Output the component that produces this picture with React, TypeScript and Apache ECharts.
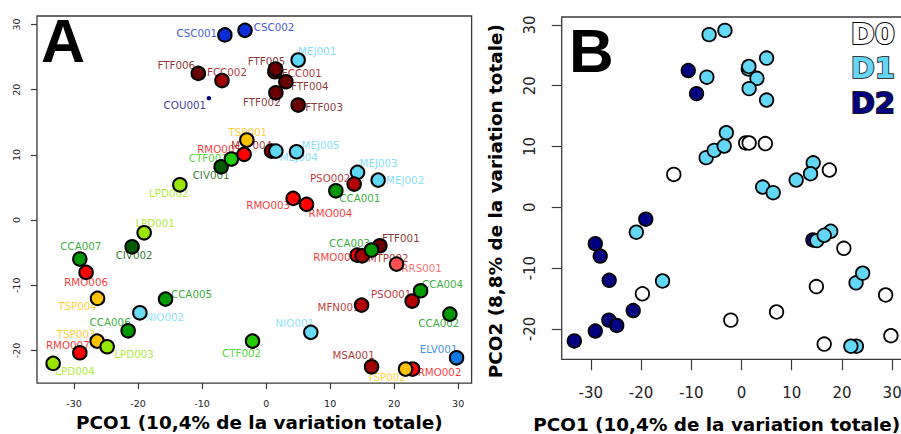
import React, { useEffect, useRef } from "react";
import * as echarts from "echarts";

// Sampling sites, in drawing order (later points sit on top)
const sites = [
  "CSC001", "CSC002", "FTF006", "FCC002", "COU001", "FCC001", "FTF005", "MEJ001",
  "FTF004", "FTF002", "FTF003", "CIV001", "CTF001", "RMO005", "TSP001", "LPD002",
  "MTP004", "MEJ004", "MEJ005", "MEJ003", "PSO002", "MEJ002", "CCA001", "RMO003",
  "RMO004", "LPD001", "CIV002", "CCA007", "RMO006", "TSP004", "CCA005", "NIO002",
  "CCA006", "TSP003", "LPD003", "RMO007", "LPD004", "CTF002", "NIO001", "RMO001",
  "MTP002", "FTF001", "CCA003", "RRS001", "PSO001", "CCA004", "MFN001", "CCA002",
  "ELV001", "MSA001", "RMO002", "TSP002",
];

// First principal coordinate (PCO1)
const pco1 = [
  -6.45, -3.3, -10.6, -6.9, -8.95, 1.36, 1.47, 5.0,
  3.08, 1.52, 5.0, -7.03, -5.43, -3.44, -3.02, -13.48,
  0.84, 1.52, 4.75, 14.28, 13.75, 17.5, 10.89, 4.22,
  6.31, -19.06, -20.94, -29.11, -28.13, -26.34, -15.72, -19.73,
  -21.56, -26.41, -24.84, -29.11, -33.28, -2.13, 6.98, 14.22,
  15.0, 17.77, 16.47, 20.38, 22.81, 24.13, 14.91, 28.7,
  29.75, 16.47, 22.88, 21.78,
];

// Second principal coordinate (PCO2)
const pco2 = [
  28.4, 29.1, 22.5, 21.4, 18.7, 22.75, 23.16, 24.54,
  21.21, 19.52, 17.64, 8.17, 9.36, 10.08, 12.27, 5.41,
  10.58, 10.58, 10.48, 7.32, 5.52, 6.13, 4.49, 3.33,
  2.41, -1.95, -4.1, -5.98, -8.02, -12.01, -12.12, -14.22,
  -16.98, -18.56, -19.43, -20.35, -21.98, -18.56, -17.22, -5.37,
  -5.48, -3.94, -4.6, -6.75, -12.42, -10.84, -13.04, -14.42,
  -21.12, -22.5, -22.85, -22.85,
];

// Sampling date of each site
const sampling = [
  "D1", "D1", "D2", "D1", "D2", "D1", "D1", "D1",
  "D1", "D1", "D1", "D1", "D1", "D1", "D1", "D0",
  "D0", "D0", "D0", "D1", "D1", "D0", "D1", "D1",
  "D1", "D2", "D1", "D2", "D2", "D2", "D1", "D0",
  "D2", "D2", "D2", "D2", "D2", "D0", "D0", "D2",
  "D1", "D1", "D1", "D0", "D1", "D1", "D0", "D0",
  "D0", "D0", "D1", "D1",
];

const pco1Ticks = [-30, -20, -10, 0, 10, 20, 30];
const pco2Ticks = [-20, -10, 0, 10, 20, 30];
const samplingLevels = ["D0", "D1", "D2"];

const siteColors: Record<string, string> = {
  CSC: "#0a2dd8",
  FTF: "#6b0000",
  FCC: "#a00000",
  COU: "#000080",
  MEJ: "#5fd7f7",
  NIO: "#6bdcf8",
  TSP: "#ffc200",
  RMO: "#ff0000",
  CTF: "#22cc00",
  CIV: "#005a00",
  LPD: "#99e600",
  CCA: "#009a00",
  PSO: "#b40000",
  MTP: "#a00000",
  MFN: "#b40000",
  MSA: "#a00000",
  RRS: "#ff5050",
  ELV: "#0a78e6",
};

const samplingColors: Record<string, string> = {
  D0: "#ffffff",
  D1: "#63d8f6",
  D2: "#000080",
};

const samplingStroke: Record<string, string> = {
  D0: "#000000",
  D1: "#3a3a3a",
  D2: "#1a1a1a",
};

// Placement of each site label, as a pixel shift from its point
const labelShift: Record<string, [number, number]> = {
  CSC001: [-28, -2], CSC002: [29, -3], FTF006: [-22, -8], FCC002: [5, -9],
  COU001: [-24, 7], FCC001: [27, 1], FTF005: [-9, -8], MEJ001: [19, -9],
  FTF004: [24, 4], FTF002: [-14, 9], FTF003: [26, 2], CIV001: [-10, 8],
  CTF001: [-23, -1], RMO005: [-25, -5], TSP001: [1, -8], LPD002: [-11, 8],
  MTP004: [-20, -6], MEJ004: [23, 6], MEJ005: [24, -7], MEJ003: [21, -9],
  PSO002: [-24, -6], MEJ002: [27, 0], CCA001: [24, 7], RMO003: [-25, 7],
  RMO004: [24, 9], LPD001: [11, -10], CIV002: [2, 8], CCA007: [1, -13],
  RMO006: [0, 10], TSP004: [-20, 8], CCA005: [26, -5], NIO002: [25, 4],
  CCA006: [-18, -9], TSP003: [-21, -7], LPD003: [27, 7], RMO007: [-12, -8],
  LPD004: [22, 8], CTF002: [-11, 12], NIO001: [-16, -9], RMO001: [-22, 2],
  MTP002: [26, 2], FTF001: [21, -8], CCA003: [-22, -7], RRS001: [25, 4],
  PSO001: [-21, -7], CCA004: [22, -7], MFN001: [-23, 2], CCA002: [-11, 9],
  ELV001: [-18, -9], MSA001: [-18, -12], RMO002: [27, 3], TSP002: [-19, 8],
};

const siteColor = (s: string) => siteColors[s.slice(0, 3)] || "#000";

const SANS = "DejaVu Sans";
const xTitle = "PCO1 (10,4% de la variation totale)";
const yTitle = "PCO2 (8,8% de la variation totale)";

const X_MIN = -35.8;
const X_MAX = 32.1;
const Y_MIN = -25;
const Y_MAX = 31.3;

export default function App() {
  const ref = useRef<HTMLDivElement>(null);

  useEffect(() => {
    if (!ref.current) return;
    const chart = echarts.init(ref.current, null, { renderer: "svg" });

    const labelData = sites.map((s, i) => ({
      name: s,
      value: [pco1[i], pco2[i]],
      label: { offset: labelShift[s] || [0, 0], color: siteColor(s) },
    }));

    const siteData = sites.map((s, i) => {
      const small = s === "COU001";
      return {
        name: s,
        value: [pco1[i], pco2[i]],
        symbolSize: small ? 4.5 : 13.5,
        itemStyle: {
          color: siteColor(s),
          borderColor: "#000",
          borderWidth: small ? 0 : 2,
          opacity: 1,
        },
      };
    });

    const samplingData = sites.map((s, i) => ({
      name: s,
      value: [pco1[i], pco2[i]],
      itemStyle: {
        color: samplingColors[sampling[i]],
        borderColor: "#000",
        opacity: 1,
      },
    }));

    const legendTexts = samplingLevels.map((lvl, k) => ({
      type: "text",
      right: 5,
      top: 18 + k * 34.5,
      style: {
        text: lvl,
        font: `bold 29px "${SANS}"`,
        fill: samplingColors[lvl],
        stroke: samplingStroke[lvl],
        lineWidth: 2,
      },
      z: 10,
    }));

    const tickStyle = { color: "#3a3a3a", width: 1.2 };

    chart.setOption({
      animation: false,
      backgroundColor: "#fff",
      grid: [
        {
          left: 37, top: 16, width: 434.6, height: 367.1,
          outerBoundsMode: "none", containLabel: false,
          show: true, borderColor: "#3a3a3a", borderWidth: 1.3,
          backgroundColor: "transparent",
        },
        {
          left: 561.7, top: 17, width: 341, height: 342.3,
          outerBoundsMode: "none", containLabel: false,
          show: true, borderColor: "#3a3a3a", borderWidth: 1.3,
          backgroundColor: "transparent",
        },
      ],
      xAxis: [
        {
          gridIndex: 0, type: "value", min: X_MIN, max: X_MAX, position: "bottom",
          axisLine: { show: false, onZero: false },
          splitLine: { show: false },
          axisTick: { show: true, length: 6, customValues: pco1Ticks, lineStyle: tickStyle },
          axisLabel: {
            customValues: pco1Ticks, margin: 15, fontFamily: SANS, fontSize: 9.5, color: "#222",
          },
          name: xTitle, nameLocation: "middle", nameGap: 30,
          nameTextStyle: {
            fontFamily: SANS, fontWeight: "bold", fontSize: 18.4, color: "#000",
            padding: [0, 0, 0, 10],
          },
        },
        {
          gridIndex: 1, type: "value", min: X_MIN, max: X_MAX, position: "bottom",
          axisLine: { show: false, onZero: false },
          splitLine: { show: false },
          axisTick: { show: true, length: 11, customValues: pco1Ticks, lineStyle: tickStyle },
          axisLabel: {
            customValues: pco1Ticks, margin: 26, fontFamily: SANS, fontSize: 15, color: "#222",
          },
          name: xTitle, nameLocation: "middle", nameGap: 56,
          nameTextStyle: {
            fontFamily: SANS, fontWeight: "bold", fontSize: 18.4, color: "#000",
            padding: [0, 31, 0, 0],
          },
        },
      ],
      yAxis: [
        {
          gridIndex: 0, type: "value", min: Y_MIN, max: Y_MAX, position: "left",
          axisLine: { show: false, onZero: false },
          splitLine: { show: false },
          axisTick: { show: true, length: 6, customValues: pco2Ticks, lineStyle: tickStyle },
          axisLabel: {
            customValues: pco2Ticks, rotate: 90, margin: 16, fontFamily: SANS, fontSize: 9.5, color: "#222",
          },
        },
        {
          gridIndex: 1, type: "value", min: Y_MIN, max: Y_MAX, position: "left",
          axisLine: { show: false, onZero: false },
          splitLine: { show: false },
          axisTick: { show: true, length: 10, customValues: pco2Ticks, lineStyle: tickStyle },
          axisLabel: {
            customValues: pco2Ticks, rotate: 90, margin: 24, fontFamily: SANS, fontSize: 15, color: "#222",
          },
          name: yTitle, nameLocation: "middle", nameGap: 57,
          nameTextStyle: {
            fontFamily: SANS, fontWeight: "bold", fontSize: 18.4, color: "#000",
            padding: [0, 26, 0, 0],
          },
        },
      ],
      series: [
        {
          type: "scatter", xAxisIndex: 0, yAxisIndex: 0, z: 1, silent: true,
          symbolSize: 1,
          itemStyle: { color: "transparent" },
          label: {
            show: true, position: "inside", formatter: "{b}",
            fontFamily: SANS, fontSize: 10.3, align: "center", verticalAlign: "middle",
          },
          data: labelData,
        },
        {
          type: "scatter", xAxisIndex: 0, yAxisIndex: 0, z: 2, silent: true,
          itemStyle: { opacity: 1 },
          data: siteData,
        },
        {
          type: "scatter", xAxisIndex: 1, yAxisIndex: 1, z: 2, silent: true,
          symbolSize: 13.5,
          itemStyle: { borderWidth: 1.8, opacity: 1 },
          data: samplingData,
        },
      ],
      graphic: [
        {
          type: "text", left: 41, top: 10, z: 10,
          style: { text: "A", font: 'bold 61px "Liberation Sans"', fill: "#000" },
        },
        {
          type: "text", left: 569, top: 19, z: 10,
          style: { text: "B", font: 'bold 62px "Liberation Sans"', fill: "#000" },
        },
        ...legendTexts,
      ],
    });

    return () => chart.dispose();
  }, []);

  return (
    <div
      ref={ref}
      style={{ position: "fixed", left: 0, top: 0, width: 901, height: 434, background: "#fff" }}
    />
  );
}
